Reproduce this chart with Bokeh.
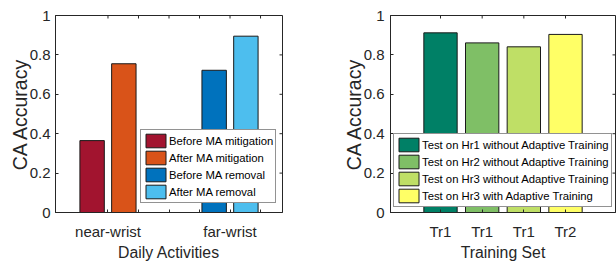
import math
from bokeh.plotting import figure
from bokeh.layouts import row
from bokeh.models import (FixedTicker, Legend, LegendItem, Range1d,
                          ColumnDataSource)
from bokeh.embed import file_html
from bokeh.resources import INLINE

# ---------------- data ----------------
activities = ["near-wrist", "far-wrist"]
activity_pos = [1, 2]
series_left = ["Before MA mitigation", "After MA mitigation",
               "Before MA removal", "After MA removal"]
series_left_group = [1, 1, 2, 2]
acc_left = [0.365, 0.755, 0.722, 0.895]
colors_left = ["#A2142F", "#D95319", "#0072BD", "#4DBEEE"]

train_sets = ["Tr1", "Tr1", "Tr1", "Tr2"]
train_pos = [1, 2, 3, 4]
series_right = ["Test on Hr1 without Adaptive Training",
                "Test on Hr2 without Adaptive Training",
                "Test on Hr3 without Adaptive Training",
                "Test on Hr3 with Adaptive Training"]
acc_right = [0.912, 0.861, 0.841, 0.904]
colors_right = ["#008066", "#7FBF66", "#BFDF66", "#FFFF66"]

y_ticks = [0, 0.2, 0.4, 0.6, 0.8, 1]
y_tick_labels = ["0", "0.2", "0.4", "0.6", "0.8", "1"]

# ---------------- style ----------------
FONT = "Liberation Sans"
AX = "#262626"
TICK_FS = "15px"
LAB_FS = "15.8px"
YLAB_FS = "19.5px"
LEG_FS = "11.3px"


def style_fig(p, xticks, xlabels, x_end):
    p.outline_line_color = AX
    p.outline_line_width = 1
    p.grid.visible = False
    p.yaxis.ticker = FixedTicker(ticks=y_ticks)
    p.yaxis.major_label_overrides = dict(zip(y_ticks, y_tick_labels))
    p.xaxis.ticker = FixedTicker(ticks=xticks)
    p.xaxis.major_label_overrides = xlabels
    for ax in (p.xaxis[0], p.yaxis[0]):
        ax.axis_line_color = AX
        ax.major_tick_line_color = AX
        ax.major_tick_in = 3
        ax.major_tick_out = 0
        ax.minor_tick_line_color = None
        ax.major_label_text_font = FONT
        ax.major_label_text_font_size = TICK_FS
        ax.major_label_text_color = AX
        ax.axis_label_text_color = AX
        ax.axis_label_text_font = FONT
        ax.axis_label_text_font_style = "normal"
    p.yaxis.major_label_standoff = 5
    p.yaxis.axis_label_standoff = -4
    p.yaxis.axis_label_text_font_size = YLAB_FS
    p.xaxis.major_label_standoff = 10
    p.xaxis.axis_label_standoff = 1
    p.xaxis.axis_label_text_font_size = LAB_FS
    # inward tick marks on the right and top edges of the box
    p.ray(x=[x_end] * len(y_ticks), y=y_ticks, length=3, length_units="screen",
          angle=math.pi, line_color=AX, line_width=1)
    p.ray(x=xticks, y=[1] * len(xticks), length=3, length_units="screen",
          angle=-math.pi / 2, line_color=AX, line_width=1)


def make_legend(p, r, names, loc):
    items = [LegendItem(label=n, renderers=[r], index=i) for i, n in enumerate(names)]
    lg = Legend(items=items, location=loc, margin=0, padding=2, spacing=0,
                glyph_width=25, glyph_height=17, label_height=17,
                label_standoff=1,
                label_text_font=FONT, label_text_font_size=LEG_FS,
                label_text_color="black",
                border_line_color=AX, border_line_width=1,
                background_fill_color="white", background_fill_alpha=1)
    p.add_layout(lg, "center")


# ---------------- left chart ----------------
offsets = [-0.13, 0.13, -0.13, 0.13]
src_l = ColumnDataSource(dict(
    x=[g + o for g, o in zip(series_left_group, offsets)],
    top=acc_left, color=colors_left, name=series_left))

x_left = (0.57, 2.43)
p1 = figure(frame_width=227, frame_height=197, min_border_left=55,
            min_border_right=26, min_border_top=15, min_border_bottom=50,
            x_range=Range1d(*x_left), y_range=Range1d(0, 1),
            output_backend="svg", toolbar_location=None,
            x_axis_label="Daily Activities", y_axis_label="CA Accuracy")
r1 = p1.vbar(x="x", top="top", bottom=0, width=0.2, fill_color="color",
             line_color="#1a1a1a", line_width=1, source=src_l)
left_xticks = [1, 1.25, 1.5, 1.75, 2, 2.25]
left_xlabels = {t: "" for t in left_xticks}
left_xlabels.update(dict(zip(activity_pos, activities)))
style_fig(p1, left_xticks, left_xlabels, x_left[1])
make_legend(p1, r1, series_left, (85, 9))

# ---------------- right chart ----------------
src_r = ColumnDataSource(dict(x=train_pos, top=acc_right,
                              color=colors_right, name=series_right))
x_right = (-0.2, 5.2)
p2 = figure(frame_width=225, frame_height=197, min_border_left=82,
            min_border_right=1, min_border_top=15, min_border_bottom=50,
            x_range=Range1d(*x_right), y_range=Range1d(0, 1),
            output_backend="svg", toolbar_location=None,
            x_axis_label="Training Set", y_axis_label="CA Accuracy")
r2 = p2.vbar(x="x", top="top", bottom=0, width=0.8, fill_color="color",
             line_color="#1a1a1a", line_width=1, source=src_r)
style_fig(p2, train_pos, dict(zip(train_pos, train_sets)), x_right[1])
p2.yaxis[0].major_label_standoff = 6
make_legend(p2, r2, series_right, (3, 5))

layout = row(p1, p2, spacing=0)
open("out.html", "w").write(file_html(layout, INLINE))
